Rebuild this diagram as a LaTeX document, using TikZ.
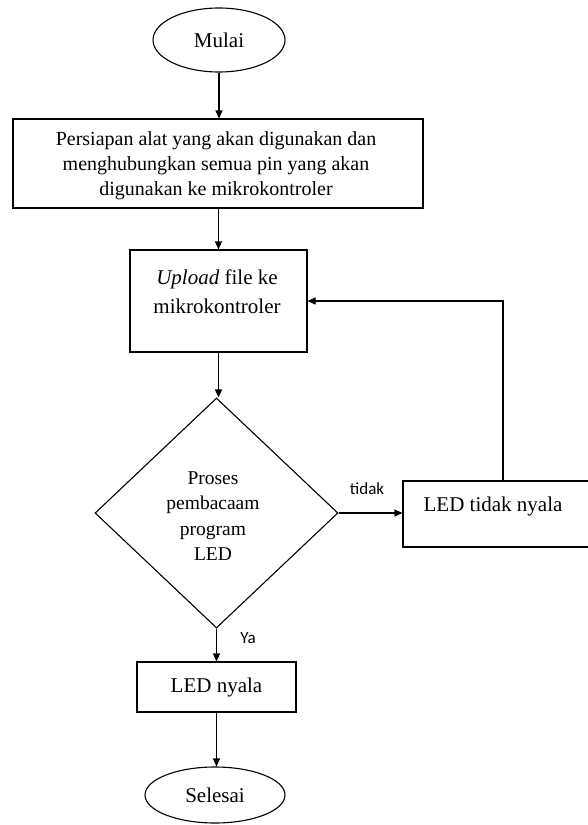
\documentclass[tikz,border=0pt]{standalone}
\usepackage{fontspec}
\setmainfont{Liberation Serif}
\newfontfamily\lblfont{Carlito}
\usetikzlibrary{shapes.geometric,arrows.meta}
\begin{document}
\begin{tikzpicture}[x=1pt,y=-1pt,
  line width=1.1pt,
  arr/.style={-{Triangle[length=8pt,width=7pt]}},
  term/.style={draw,ellipse,inner sep=0pt},
  boxs/.style={draw,rectangle,inner sep=0pt},
  txt/.style={inner sep=0pt,align=center},
  lbl/.style={inner sep=0pt,font=\lblfont\fontsize{17}{20}\selectfont}]
\useasboundingbox (0,0) rectangle (587,825);
% nodes
\node[term,minimum width=132pt,minimum height=64pt,font=\fontsize{21}{25}\selectfont] (mulai) at (219,40) {Mulai};
\node[boxs,minimum width=410pt,minimum height=89pt] (prep) at (218,163.5) {};
\node[txt,font=\fontsize{20}{25}\selectfont] (preptxt) at (216,165.5) {Persiapan alat yang akan digunakan dan\\ menghubungkan semua pin yang akan\\ digunakan ke mikrokontroler};
\node[boxs,minimum width=177pt,minimum height=102pt] (upload) at (218.5,301) {};
\node[txt,font=\fontsize{21}{29}\selectfont] (uptxt) at (217,292) {\textit{Upload} file ke\\ mikrokontroler};
\node[draw,diamond,inner sep=0pt,minimum width=243pt,minimum height=230pt] (dia) at (216.5,513) {};
\node[txt,font=\fontsize{19.5}{25.3}\selectfont] (diatxt) at (213,516) {Proses\\ pembacaam\\ program\\ LED};
\node[boxs,minimum width=200pt,minimum height=66pt] (tbox) at (503,514) {};
\node[txt,font=\fontsize{21}{25}\selectfont] (ttxt) at (493,506) {LED tidak nyala};
\node[boxs,minimum width=159pt,minimum height=50pt,font=\fontsize{21}{25}\selectfont] (nyala) at (216.5,687) {LED nyala};
\node[term,minimum width=140pt,minimum height=56pt,font=\fontsize{21}{25}\selectfont] (selesai) at (215,795) {Selesai};
% labels
\node[lbl] (ltidak) at (367,489) {tidak};
\node[lbl] (lya) at (248,638) {Ya};
% connectors
\draw[arr] (mulai.south) -- (mulai.south |- prep.north);
\draw[arr] (prep.south -| upload.north) -- (upload.north);
\draw[arr] (upload.south) -- (upload.south |- dia.north);
\draw[arr] (dia.east) -- (dia.east -| tbox.west);
\draw[arr] (tbox.north) |- (upload.east);
\draw[arr] (dia.south) -- (dia.south -| nyala.north) -- (nyala.north);
\draw[arr] (nyala.south) -- (nyala.south |- selesai.north);
\end{tikzpicture}
\end{document}
